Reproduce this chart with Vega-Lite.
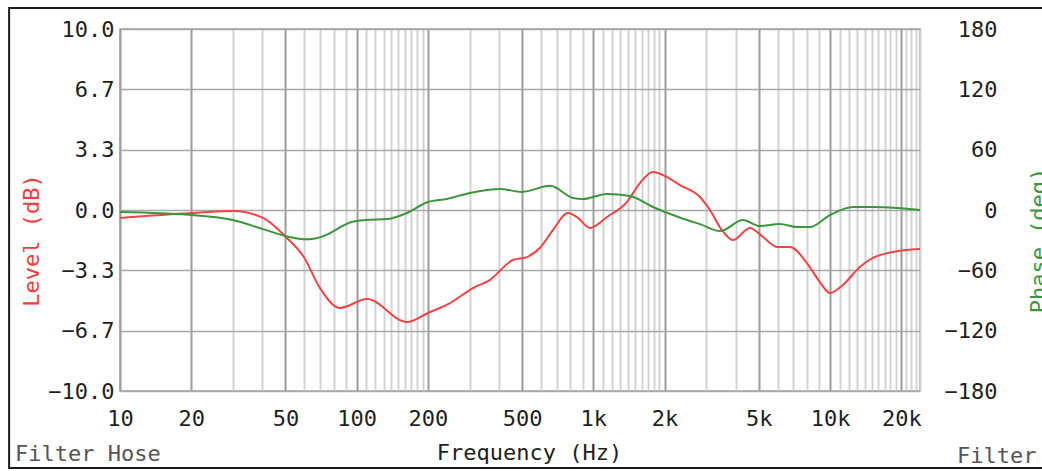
{
  "$schema": "https://vega.github.io/schema/vega-lite/v6.json",
  "width": 800,
  "height": 362,
  "autosize": {"type": "none"},
  "padding": {"left": 120, "top": 29, "right": 122, "bottom": 80},
  "background": "white",
  "config": {
    "view": {"stroke": "#a0a0a0", "strokeWidth": 1.5},
    "axis": {
      "labelFont": "DejaVu Sans Mono",
      "labelFontSize": 22,
      "labelColor": "#1e1e1e",
      "titleFont": "DejaVu Sans Mono",
      "titleFontSize": 22,
      "titleFontWeight": "normal",
      "domain": false,
      "ticks": false
    },
    "text": {"font": "DejaVu Sans Mono", "fontSize": 22}
  },
  "datasets": {
    "level": [
      {"f": 10, "v": -0.44}, {"f": 20.1, "v": -0.17}, {"f": 30, "v": -0.05}, {"f": 40.2, "v": -0.44},
      {"f": 50.2, "v": -1.49}, {"f": 59.8, "v": -2.6}, {"f": 70, "v": -4.31}, {"f": 84.9, "v": -5.41},
      {"f": 110.6, "v": -4.92}, {"f": 163, "v": -6.19}, {"f": 200, "v": -5.69}, {"f": 248, "v": -5.14},
      {"f": 310, "v": -4.31}, {"f": 365, "v": -3.87}, {"f": 457, "v": -2.76}, {"f": 524, "v": -2.6},
      {"f": 594, "v": -2.1}, {"f": 675, "v": -1.11}, {"f": 781, "v": -0.17}, {"f": 853, "v": -0.39},
      {"f": 968, "v": -0.99}, {"f": 1141, "v": -0.39}, {"f": 1386, "v": 0.44}, {"f": 1574, "v": 1.49},
      {"f": 1786, "v": 2.1}, {"f": 2048, "v": 1.82}, {"f": 2322, "v": 1.38}, {"f": 2820, "v": 0.72},
      {"f": 3110, "v": 0.0}, {"f": 3493, "v": -1.11}, {"f": 3890, "v": -1.66}, {"f": 4590, "v": -0.99},
      {"f": 5210, "v": -1.49}, {"f": 5970, "v": -2.04}, {"f": 6770, "v": -2.04}, {"f": 7990, "v": -2.93},
      {"f": 9060, "v": -3.98}, {"f": 10000, "v": -4.59}, {"f": 11340, "v": -4.14}, {"f": 13370, "v": -3.15},
      {"f": 15170, "v": -2.65}, {"f": 18440, "v": -2.32}, {"f": 24000, "v": -2.16}
    ],
    "phase": [
      {"f": 10, "v": -2}, {"f": 20.1, "v": -5}, {"f": 30, "v": -10}, {"f": 40.2, "v": -19},
      {"f": 50.2, "v": -26}, {"f": 59.8, "v": -29}, {"f": 66, "v": -28.5}, {"f": 74, "v": -25},
      {"f": 84, "v": -18}, {"f": 95, "v": -12}, {"f": 110, "v": -10}, {"f": 135, "v": -9},
      {"f": 163, "v": -3}, {"f": 200, "v": 8}, {"f": 240.7, "v": 11}, {"f": 301, "v": 17},
      {"f": 403, "v": 21}, {"f": 499, "v": 18}, {"f": 656, "v": 24}, {"f": 821, "v": 12},
      {"f": 904, "v": 11}, {"f": 1141, "v": 16}, {"f": 1428, "v": 14}, {"f": 1786, "v": 3},
      {"f": 2169, "v": -5}, {"f": 2560, "v": -11}, {"f": 2820, "v": -14}, {"f": 3430, "v": -21},
      {"f": 4290, "v": -10}, {"f": 5060, "v": -16}, {"f": 6140, "v": -14}, {"f": 7250, "v": -17},
      {"f": 8220, "v": -17}, {"f": 10000, "v": -5}, {"f": 12500, "v": 3}, {"f": 15170, "v": 3},
      {"f": 19180, "v": 2}, {"f": 24000, "v": 0}
    ],
    "notes": [{"t": "Filter Hose"}]
  },
  "layer": [
    {
      "data": {"name": "level"},
      "mark": {"type": "line", "color": "#f04444", "strokeWidth": 2, "interpolate": "monotone"},
      "encoding": {
        "x": {
          "field": "f", "type": "quantitative",
          "scale": {"type": "log", "domain": [10, 24000], "nice": false},
          "axis": {
            "orient": "bottom",
            "values": [10,20,30,40,50,60,70,80,90,100,110,120,130,140,150,160,170,180,190,200,300,400,500,600,700,800,900,1000,1100,1200,1300,1400,1500,1600,1700,1800,1900,2000,3000,4000,5000,6000,7000,8000,9000,10000,11000,12000,13000,14000,15000,16000,17000,18000,19000,20000,21000,22000,23000,24000],
            "labelExpr": "indexof([10,20,50,100,200,500,1000,2000,5000,10000,20000], datum.value) >= 0 ? (datum.value >= 1000 ? (datum.value / 1000) + 'k' : datum.value + '') : ''",
            "labelOverlap": false,
            "labelFlush": false,
            "labelBound": false,
            "labelPadding": 17,
            "grid": true,
            "gridColor": {"condition": {"test": "indexof([10,20,50,100,200,500,1000,2000,5000,10000,20000], datum.value) >= 0", "value": "#9c9c9c"}, "value": "#d3d3d3"},
            "gridWidth": 2,
            "title": "Frequency (Hz)",
            "titleColor": "#1e1e1e",
            "titleX": 409,
            "titleY": 61,
            "titleBaseline": "middle",
            "titleAlign": "center"
          }
        },
        "y": {
          "field": "v", "type": "quantitative",
          "scale": {"domain": [-10, 10], "nice": false, "zero": false},
          "axis": {
            "orient": "left",
            "values": [-10, -6.6667, -3.3333, 0, 3.3333, 6.6667, 10],
            "format": ".1f",
            "labelPadding": 6,
            "grid": true,
            "gridColor": "#a8a8a8",
            "gridWidth": 1.5,
            "title": "Level (dB)",
            "titleColor": "#f03c3c",
            "titleAngle": 270,
            "titleX": -89,
            "titleY": 211,
            "titleAlign": "center",
            "titleBaseline": "middle"
          }
        }
      }
    },
    {
      "data": {"name": "phase"},
      "mark": {"type": "line", "color": "#3a963a", "strokeWidth": 2, "interpolate": "monotone"},
      "encoding": {
        "x": {"field": "f", "type": "quantitative", "scale": {"type": "log", "domain": [10, 24000], "nice": false}},
        "y": {
          "field": "v", "type": "quantitative",
          "scale": {"domain": [-180, 180], "nice": false, "zero": false},
          "axis": {
            "orient": "right",
            "values": [-180, -120, -60, 0, 60, 120, 180],
            "labelAlign": "right",
            "labelPadding": 77,
            "grid": false,
            "title": "Phase (deg)",
            "titleColor": "#3a963a",
            "titleAngle": 270,
            "titleX": 118,
            "titleY": 211,
            "titleAlign": "center",
            "titleBaseline": "middle"
          }
        }
      }
    },
    {
      "data": {"name": "notes"},
      "mark": {"type": "text", "align": "left", "baseline": "middle", "color": "#555555"},
      "encoding": {
        "text": {"field": "t"},
        "x": {"datum": 3.6, "type": "quantitative", "scale": {"type": "log", "domain": [10, 24000], "nice": false}},
        "y": {"datum": -13.5, "type": "quantitative", "scale": {"domain": [-10, 10], "nice": false, "zero": false}, "axis": null}
      }
    },
    {
      "data": {"name": "notes"},
      "mark": {"type": "text", "align": "left", "baseline": "middle", "color": "#555555"},
      "encoding": {
        "text": {"field": "t"},
        "x": {"datum": 34400, "type": "quantitative", "scale": {"type": "log", "domain": [10, 24000], "nice": false}},
        "y": {"datum": -13.6, "type": "quantitative", "scale": {"domain": [-10, 10], "nice": false, "zero": false}, "axis": null}
      }
    },
    {
      "data": {"name": "notes"},
      "mark": {"type": "rect", "fill": null, "fillOpacity": 0, "stroke": "#1a1a1a", "strokeWidth": 2},
      "encoding": {
        "x": {"datum": 3.4, "type": "quantitative", "scale": {"type": "log", "domain": [10, 24000], "nice": false}},
        "x2": {"datum": 95000},
        "y": {"datum": 11.16, "type": "quantitative", "scale": {"domain": [-10, 10], "nice": false, "zero": false}, "axis": null},
        "y2": {"datum": -14.25}
      }
    }
  ],
  "resolve": {"scale": {"y": "independent"}, "axis": {"y": "independent"}}
}
